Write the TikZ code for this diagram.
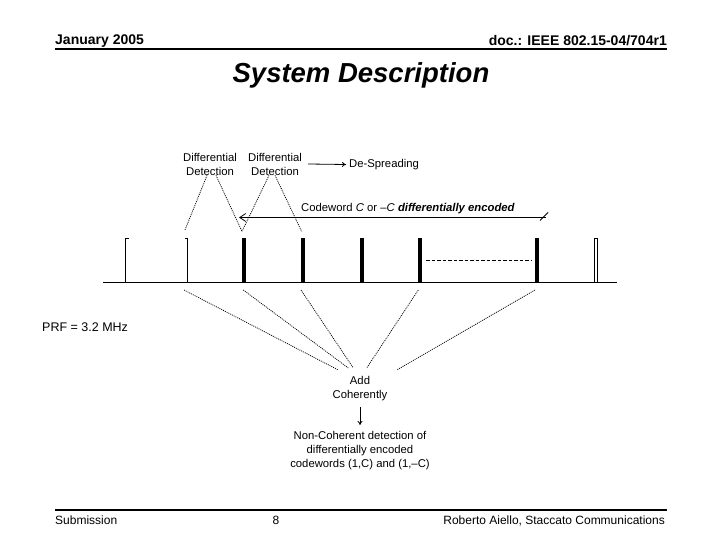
\documentclass[tikz,border=0pt]{standalone}
\usepackage{fontspec}
\setmainfont{Liberation Sans}
\usetikzlibrary{arrows.meta}
\begin{document}
\begin{tikzpicture}[x=1pt,y=-1pt,
  lbl/.style={font=\fontsize{11.3}{14}\selectfont, align=center, inner sep=0pt},
  hdr/.style={font=\bfseries\fontsize{14}{16}\selectfont, inner sep=0pt},
  ftr/.style={font=\fontsize{12}{14}\selectfont, inner sep=0pt},
  rule/.style={line width=2pt},
  dotln/.style={dash pattern=on 1pt off 1pt, line width=0.75pt},
  ln/.style={line width=0.8pt},
  pulse/.style={fill=black, draw=none},
]
\useasboundingbox (0,0) rectangle (720,540);
\fill[white] (0,0) rectangle (720,540);

% header
\node[hdr, anchor=base west] (date) at (55,45) {January 2005};
\node[hdr, anchor=base east] (doc) at (667,46) {doc.: IEEE 802.15-04/704r1};
\coordinate (hrl) at (55,49);
\coordinate (hrr) at (667,49);
\draw[rule] (hrl) -- (hrr);
\node[font=\bfseries\itshape\fontsize{27.5}{32}\selectfont, inner sep=0pt] (title) at (361,75) {System Description};

% labels top
\node[lbl] (dd1) at (210,164) {Differential\\Detection};
\node[lbl] (dd2) at (275,164) {Differential\\Detection};
\node[lbl, anchor=west] (ds) at (349,164.5) {De-Spreading};
\draw[ln, -{To[length=4pt,width=5pt]}] ([xshift=6pt]dd2.east) -- ([xshift=-3pt]ds.west);

\node[lbl, anchor=west] (cw) at (301,209) {Codeword \textit{C} or \textendash\textit{C} \textbf{\textit{differentially encoded}}};
\coordinate (cwL) at (239,217.5);
\coordinate (cwR) at (545.7,217.5);
\draw[ln, -{Straight Barb[length=6pt,width=8pt]}] (cwR) -- (cwL);
\coordinate (tk1) at (540,220.5);
\coordinate (tk2) at (548,212.5);
\draw[ln] (tk1) -- (tk2);

% pulses
\coordinate (bl) at (103,282.5);
\coordinate (br) at (617,282.5);
\draw[ln] (bl) -- (br);
\coordinate (p1) at (125.7,282.5);
\coordinate (p2) at (187.5,282.5);
\coordinate (p3) at (244,282.5);
\coordinate (p4) at (302.7,282.5);
\coordinate (p5) at (361.7,282.5);
\coordinate (p6) at (420,282.5);
\coordinate (p7) at (537.3,282.5);
\coordinate (p8) at (595.8,282.5);
\draw[ln] (p1) -- ++(0,-44) -- ++(3,0);
\draw[ln] (p2) -- ++(0,-44) -- ++(-3,0);
\foreach \p in {p3,p4,p5,p6,p7} \fill[pulse] ([xshift=-2pt]\p) rectangle ([xshift=2pt,yshift=44.5pt]\p);
\draw[ln] ([xshift=-1.5pt]p8) -- ++(0,-44) -- ++(3,0) -- ++(0,44);
\coordinate (dsL) at (426,260.7);
\coordinate (dsR) at (530.7,260.7);
\draw[ln, dash pattern=on 3.5pt off 2pt] (dsL) -- (dsR);

% detection lines
\coordinate (t1) at (185,230);
\coordinate (t3) at (242,231.5);
\coordinate (t4) at (301.7,231.5);
\draw[dotln] ([xshift=-3pt]dd1.south) -- (t1);
\draw[dotln] ([xshift=6pt]dd1.south) -- (t3);
\draw[dotln] ([xshift=-6pt]dd2.south) -- (t3);
\draw[dotln] ([xshift=0pt]dd2.south) -- (t4);

% add coherently
\node[lbl] (add) at (360,389) {Add\\Coherently};
\coordinate (b1) at (338.3,370);
\coordinate (b2) at (348.3,368);
\coordinate (b3) at (353.3,368);
\coordinate (b4) at (366.7,368);
\coordinate (b5) at (396.7,370);
\draw[dotln] (184,290) -- (b1);
\draw[dotln] (243.3,290) -- (b2);
\draw[dotln] (301,290) -- (b3);
\draw[dotln] (418.3,290) -- (b4);
\draw[dotln] (535,290) -- (b5);

\node[lbl] (nc) at (360,451) {Non-Coherent detection of\\differentially encoded\\codewords (1,C) and (1,\textendash C)};
\coordinate (a1) at (360,407);
\coordinate (a2) at (360,425);
\draw[ln, -{To[length=4pt,width=5pt]}] (a1) -- (a2);

\node[font=\fontsize{12.5}{14}\selectfont, inner sep=0pt, anchor=west] (prf) at (42,327) {PRF = 3.2 MHz};

% footer
\coordinate (frl) at (55,510);
\coordinate (frr) at (667,510);
\draw[rule] (frl) -- (frr);
\node[ftr, anchor=base west] (sub) at (55,524.5) {Submission};
\node[ftr, anchor=base] (pg) at (276,524.5) {8};
\node[ftr, anchor=base east] (auth) at (665,524.5) {Roberto Aiello, Staccato Communications};
\end{tikzpicture}
\end{document}
